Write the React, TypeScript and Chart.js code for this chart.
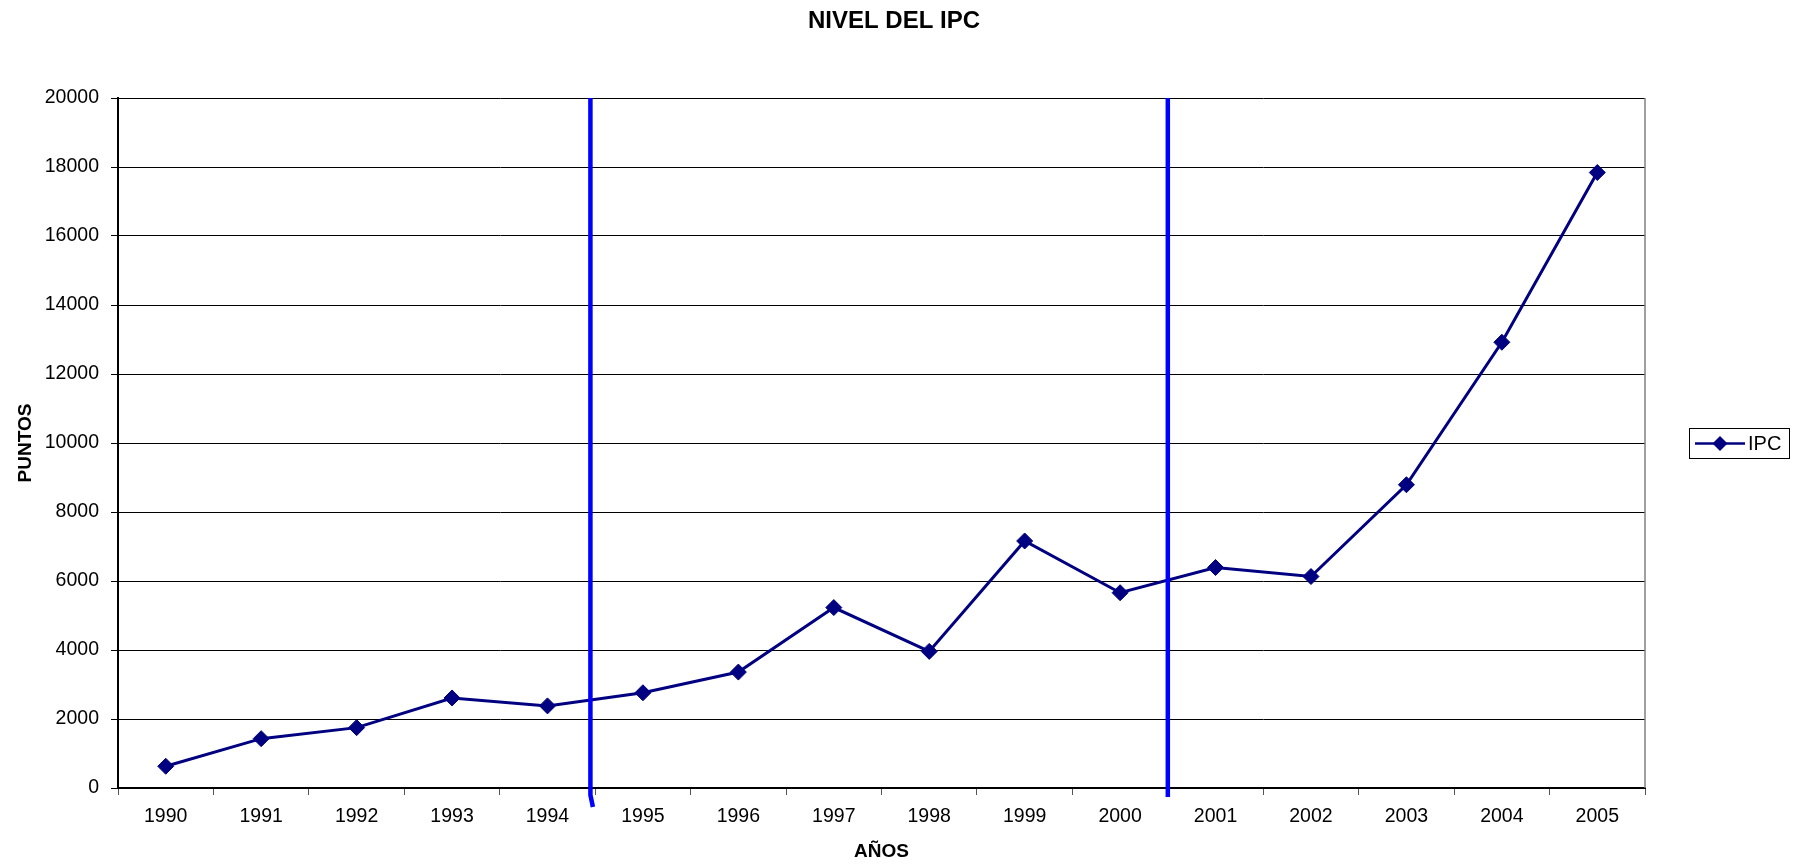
import React, { useEffect, useRef } from "react";
import { Chart, registerables } from "chart.js";

Chart.register(...registerables);

// Annual CPI level (points)
const YEARS = ["1990", "1991", "1992", "1993", "1994", "1995", "1996", "1997", "1998", "1999", "2000", "2001", "2002", "2003", "2004", "2005"];
const IPC = [630, 1430, 1750, 2610, 2380, 2760, 3360, 5230, 3960, 7160, 5660, 6390, 6130, 8790, 12920, 17840];

// Period separators, in category-index units (between 1994/1995 and 2000/2001)
const PERIOD_BREAKS = [4.45, 10.5];

const TITLE = "NIVEL DEL IPC";
const Y_MIN = 0;
const Y_MAX = 20000;
const Y_STEP = 2000;

const FONT = "'Liberation Sans', Arial, Helvetica, sans-serif";
const NAVY = "#000080";

const chartDecor = {
  id: "chartDecor",
  beforeDatasetsDraw(chart: any) {
    const { ctx, chartArea } = chart;
    ctx.save();
    // grey plot-area edge on the right
    ctx.strokeStyle = "#808080";
    ctx.lineWidth = 1.5;
    ctx.beginPath();
    ctx.moveTo(chartArea.right, chartArea.top);
    ctx.lineTo(chartArea.right, chartArea.bottom);
    ctx.stroke();
    ctx.restore();
  },
  afterDatasetsDraw(chart: any) {
    const { ctx, chartArea, scales, width } = chart;
    const x = scales.x;

    // chart title, centred over the whole canvas
    ctx.save();
    ctx.fillStyle = "#000";
    ctx.font = `bold 24px ${FONT}`;
    ctx.textAlign = "center";
    ctx.textBaseline = "middle";
    ctx.fillText(TITLE, width / 2 - 7, 21);
    ctx.restore();

    // period separators
    ctx.save();
    ctx.strokeStyle = "#0000FF";
    ctx.lineWidth = 4.5;
    ctx.lineCap = "butt";
    PERIOD_BREAKS.forEach((b, i) => {
      const px = x.getPixelForValue(b);
      ctx.beginPath();
      ctx.moveTo(px, chartArea.top);
      if (i === 0) {
        ctx.lineTo(px, chartArea.bottom + 7);
        ctx.lineTo(px + 2.5, chartArea.bottom + 19);
      } else {
        ctx.lineTo(px, chartArea.bottom + 9);
      }
      ctx.stroke();
    });
    ctx.restore();

    // legend box
    const lx = chartArea.right + 44;
    const ly = chartArea.top + 330;
    const lw = 100;
    const lh = 30;
    ctx.save();
    ctx.fillStyle = "#fff";
    ctx.fillRect(lx, ly, lw, lh);
    ctx.strokeStyle = "#000";
    ctx.lineWidth = 1;
    ctx.strokeRect(lx + 0.5, ly + 0.5, lw, lh);
    const cy = ly + lh / 2 + 0.5;
    ctx.strokeStyle = NAVY;
    ctx.lineWidth = 2.5;
    ctx.beginPath();
    ctx.moveTo(lx + 6, cy);
    ctx.lineTo(lx + 56, cy);
    ctx.stroke();
    const cx = lx + 31;
    ctx.fillStyle = NAVY;
    ctx.beginPath();
    ctx.moveTo(cx, cy - 7.5);
    ctx.lineTo(cx + 7.5, cy);
    ctx.lineTo(cx, cy + 7.5);
    ctx.lineTo(cx - 7.5, cy);
    ctx.closePath();
    ctx.fill();
    ctx.fillStyle = "#000";
    ctx.font = `20px ${FONT}`;
    ctx.textAlign = "left";
    ctx.textBaseline = "middle";
    ctx.fillText(chart.data.datasets[0].label, lx + 59, cy + 1);
    ctx.restore();
  },
};

export default function App() {
  const ref = useRef<HTMLCanvasElement | null>(null);

  useEffect(() => {
    if (!ref.current) return;
    const chart = new Chart(ref.current, {
      type: "line",
      data: {
        labels: YEARS,
        datasets: [
          {
            label: "IPC",
            data: IPC,
            borderColor: NAVY,
            backgroundColor: NAVY,
            borderWidth: 3,
            pointStyle: "rectRot",
            pointRadius: 8,
            pointBorderWidth: 1,
            pointBackgroundColor: NAVY,
            pointBorderColor: NAVY,
            tension: 0,
            fill: false,
          },
        ],
      },
      options: {
        responsive: false,
        animation: false,
        layout: { padding: { left: 0, right: 157, top: 98, bottom: 0 } },
        plugins: {
          legend: { display: false },
          tooltip: { enabled: false },
          title: { display: false },
        },
        scales: {
          x: {
            type: "category",
            offset: true,
            grid: {
              offset: true,
              drawOnChartArea: false,
              drawTicks: true,
              tickLength: 7,
              color: "#555",
              lineWidth: 1,
            },
            border: { display: true, color: "#000", width: 2 },
            ticks: {
              color: "#000",
              font: { family: FONT, size: 19.5 },
              padding: 10,
              maxRotation: 0,
              autoSkip: false,
            },
            title: {
              display: true,
              text: "AÑOS",
              color: "#000",
              font: { family: FONT, size: 19, weight: "bold", lineHeight: 1.2 },
              padding: { top: 11, bottom: 2 },
            },
            afterFit(scale: any) {
              scale.height = 77;
            },
          },
          y: {
            min: Y_MIN,
            max: Y_MAX,
            ticks: {
              stepSize: Y_STEP,
              color: "#000",
              font: { family: FONT, size: 19.5 },
              padding: 12,
              callback: (v: any) => String(v),
            },
            grid: {
              color: "#000",
              lineWidth: 1,
              tickLength: 7,
              drawTicks: true,
            },
            border: { display: true, color: "#000", width: 2 },
            title: {
              display: true,
              text: "PUNTOS",
              color: "#000",
              font: { family: FONT, size: 19, weight: "bold", lineHeight: 1.2 },
              padding: { top: 14, bottom: 0 },
            },
            afterFit(scale: any) {
              scale.width = 118;
            },
          },
        },
      },
      plugins: [chartDecor],
    });
    return () => chart.destroy();
  }, []);

  return (
    <div style={{ position: "absolute", left: 0, top: 0, width: 1802, height: 865, background: "#fff" }}>
      <canvas ref={ref} width={1802} height={865} />
    </div>
  );
}
